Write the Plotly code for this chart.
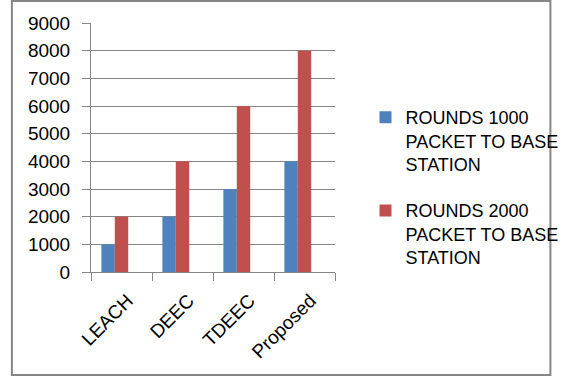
import plotly.graph_objects as go

categories = ["LEACH", "DEEC", "TDEEC", "Proposed"]
rounds_1000 = [1000, 2000, 3000, 4000]
rounds_2000 = [2000, 4000, 6000, 8000]
series_names = ["ROUNDS 1000<br>PACKET TO BASE<br>STATION", "ROUNDS 2000<br>PACKET TO BASE<br>STATION"]
y_ticks = [0, 1000, 2000, 3000, 4000, 5000, 6000, 7000, 8000, 9000]

FONT = "Liberation Sans"

fig = go.Figure()
fig.add_trace(go.Bar(x=categories, y=rounds_1000, name=series_names[0], marker_color="#4F81BD",
                     marker_line_width=0, width=0.22, offset=-0.33, legendgroup="r1000"))
fig.add_trace(go.Bar(x=categories, y=rounds_2000, name=series_names[1], marker_color="#C0504D",
                     marker_line_width=0, width=0.22, offset=-0.11, legendgroup="r2000"))

W, H = 575, 377
l, r, t, b = 91, 228, 23, 105
pw, ph = W - l - r, H - t - b

def px_x(p):
    return (p - l) / pw

def px_y(p):
    return (H - b - p) / ph

fig.update_layout(
    width=W, height=H,
    margin=dict(l=l, r=r, t=t, b=b),
    paper_bgcolor="white", plot_bgcolor="white",
    barmode="overlay",
    font=dict(family=FONT, size=18, color="#000000"),
    legend=dict(x=px_x(379), y=px_y(99), xanchor="left", yanchor="top", valign="top",
                font=dict(family=FONT, size=18, color="#000000"),
                tracegroupgap=20, itemwidth=30, bgcolor="rgba(0,0,0,0)"),
    showlegend=True,
    xaxis=dict(showline=True, linecolor="#868686", linewidth=1, ticks="outside",
               tickson="boundaries", ticklen=8, tickcolor="#868686", tickangle=-45,
               ticklabelstandoff=9, ticklabelshift=6,
               showgrid=False, tickfont=dict(family=FONT, size=19)),
    yaxis=dict(range=[0, 9000], tickvals=y_ticks, showline=True, linecolor="#868686",
               linewidth=1, ticks="outside", ticklen=8, tickcolor="#868686",
               ticklabelstandoff=8,
               showgrid=True, gridcolor="#868686", gridwidth=1, zeroline=False,
               tickfont=dict(family=FONT, size=19)),
    shapes=[dict(type="rect", xref="paper", yref="paper",
                 x0=px_x(8), x1=px_x(573), y0=px_y(375), y1=px_y(1),
                 line=dict(color="#868686", width=2), fillcolor="rgba(0,0,0,0)", layer="below")],
)

fig.write_html("out.html")
